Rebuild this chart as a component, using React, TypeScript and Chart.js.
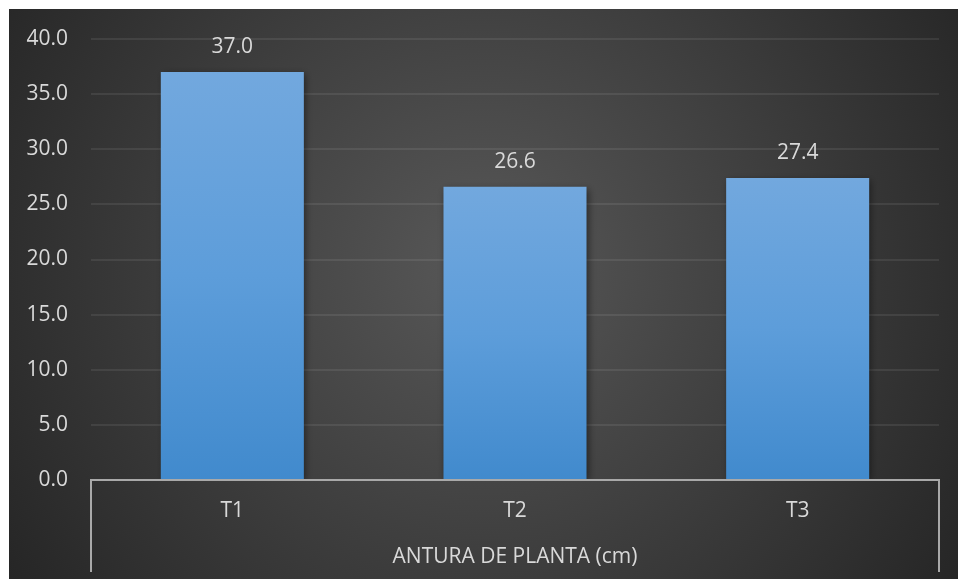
import React, { useEffect, useRef } from "react";
import { Chart, registerables } from "chart.js";

Chart.register(...registerables);

const categories = ["T1", "T2", "T3"];
const values = [37.0, 26.6, 27.4];
const groupLabel = "ANTURA DE PLANTA (cm)";
const yMin = 0;
const yMax = 40;
const yStep = 5;

const FONT = "'Open Sans', 'DejaVu Sans', sans-serif";
const TEXT = "#d9d9d9";

const bgPlugin = {
  id: "bgPlugin",
  beforeDraw(chart: any) {
    const { ctx, width, height } = chart;
    ctx.save();
    const g = ctx.createRadialGradient(width * 0.5, height * 0.45, 0, width * 0.5, height * 0.45, width * 0.62);
    g.addColorStop(0, "#585858");
    g.addColorStop(1, "#242424");
    ctx.fillStyle = g;
    ctx.fillRect(0, 0, width, height);
    ctx.restore();
  },
};

const shadowPlugin = {
  id: "shadowPlugin",
  beforeDatasetDraw(chart: any) {
    const ctx = chart.ctx;
    ctx.save();
    ctx.shadowColor = "rgba(0,0,0,0.45)";
    ctx.shadowBlur = 7;
    ctx.shadowOffsetX = 2;
    ctx.shadowOffsetY = 2;
  },
  afterDatasetDraw(chart: any) {
    chart.ctx.restore();
  },
};

const labelPlugin = {
  id: "labelPlugin",
  afterDatasetsDraw(chart: any) {
    const { ctx, chartArea } = chart;
    const meta = chart.getDatasetMeta(0);
    ctx.save();
    ctx.font = `21px ${FONT}`;
    ctx.fillStyle = TEXT;
    ctx.textAlign = "center";
    ctx.textBaseline = "middle";
    meta.data.forEach((bar: any, i: number) => {
      ctx.fillText(values[i].toFixed(1), bar.x, bar.y - 25);
    });
    // category box
    const left = chartArea.left;
    const right = chartArea.right;
    const bottom = chartArea.bottom;
    ctx.strokeStyle = "#a9a9a9";
    ctx.lineWidth = 2;
    ctx.beginPath();
    ctx.moveTo(left, bottom + 92);
    ctx.lineTo(left, bottom);
    ctx.lineTo(right, bottom);
    ctx.lineTo(right, bottom + 92);
    ctx.stroke();
    ctx.font = `21px ${FONT}`;
    ctx.fillText(groupLabel, (left + right) / 2, bottom + 77);
    ctx.restore();
  },
};

export default function App() {
  const ref = useRef<HTMLCanvasElement | null>(null);
  useEffect(() => {
    if (!ref.current) return;
    const chart = new Chart(ref.current, {
      type: "bar",
      data: {
        labels: categories,
        datasets: [
          {
            data: values,
            backgroundColor: (c: any) => {
              const ch = c.chart;
              const ys = ch.scales && ch.scales.y;
              if (!ys || !ch.chartArea) return "#5b9bd5";
              const top = ys.getPixelForValue(c.raw ?? 0);
              const bot = ys.getPixelForValue(0);
              const g = ch.ctx.createLinearGradient(0, top, 0, bot);
              g.addColorStop(0, "#72a8de");
              g.addColorStop(0.5, "#5d9dda");
              g.addColorStop(1, "#418acd");
              return g;
            },
            borderWidth: 0,
            categoryPercentage: 1,
            barPercentage: 0.506,
          },
        ],
      },
      options: {
        animation: false,
        responsive: true,
        maintainAspectRatio: false,
        layout: { padding: { top: 30, right: 19, left: 0, bottom: 0 } },
        plugins: { legend: { display: false }, tooltip: { enabled: false } },
        scales: {
          x: {
            grid: { display: false, drawTicks: false },
            border: { display: false },
            ticks: { color: TEXT, font: { family: FONT, size: 21 }, padding: 18 },
            afterFit: (s: any) => {
              s.height = 99;
              s.paddingLeft = 0;
              s.paddingRight = 0;
            },
          },
          y: {
            min: yMin,
            max: yMax,
            grid: { color: "rgba(255,255,255,0.08)", lineWidth: 2, drawTicks: false },
            border: { display: false },
            ticks: {
              stepSize: yStep,
              color: TEXT,
              font: { family: FONT, size: 21 },
              padding: 23,
              callback: (v: any) => Number(v).toFixed(1),
            },
            afterFit: (s: any) => {
              s.width = 82;
              s.paddingTop = 0;
              s.paddingBottom = 0;
            },
          },
        },
      },
      plugins: [bgPlugin, shadowPlugin, labelPlugin],
    });
    return () => chart.destroy();
  }, []);
  return (
    <div style={{ position: "absolute", left: 9, top: 9, width: 949, height: 570 }}>
      <canvas ref={ref} />
    </div>
  );
}
